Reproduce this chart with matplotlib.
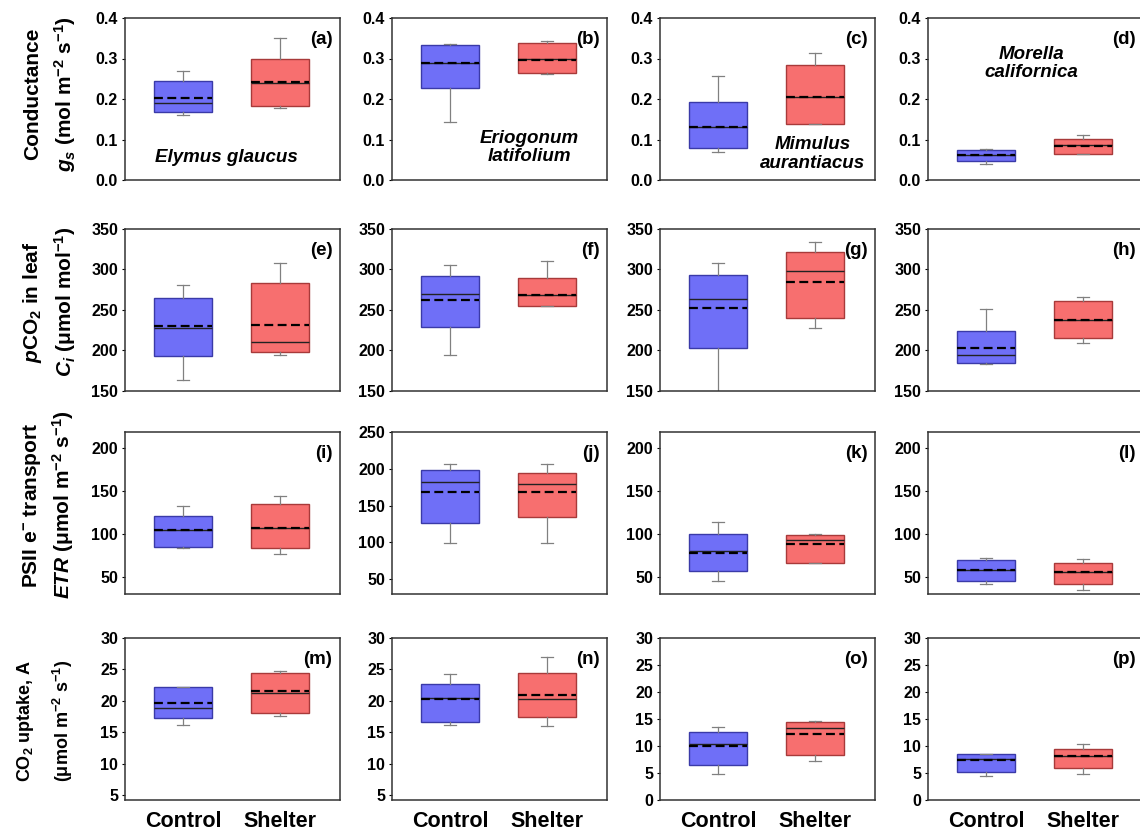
import matplotlib
matplotlib.use("Agg")
import matplotlib.pyplot as plt

plt.rcParams['font.family'] = ['Liberation Sans', 'DejaVu Sans']
plt.rcParams['font.weight'] = 'bold'
plt.rcParams['mathtext.fontset'] = 'custom'
plt.rcParams['mathtext.rm'] = 'Liberation Sans:bold'
plt.rcParams['mathtext.it'] = 'Liberation Sans:bold:italic'
plt.rcParams['mathtext.bf'] = 'Liberation Sans:bold'

# species and treatments
species = ['Elymus glaucus', 'Eriogonum\nlatifolium', 'Mimulus\naurantiacus', 'Morella\ncalifornica']
groups = ['Control', 'Shelter']
letters = ['abcd', 'efgh', 'ijkl', 'mnop']

# each entry: [whislo, q1, median, q3, whishi, mean]
gs_control = [[0.160, 0.168, 0.190, 0.244, 0.270, 0.202],
              [0.143, 0.227, 0.289, 0.333, 0.336, 0.289],
              [0.069, 0.079, 0.131, 0.193, 0.257, 0.131],
              [0.040, 0.047, 0.062, 0.074, 0.076, 0.062]]
gs_shelter = [[0.178, 0.183, 0.240, 0.300, 0.350, 0.242],
              [0.262, 0.265, 0.300, 0.338, 0.342, 0.296],
              [0.138, 0.138, 0.205, 0.284, 0.314, 0.205],
              [0.064, 0.064, 0.086, 0.102, 0.110, 0.084]]

ci_control = [[164, 193, 228, 265, 281, 230],
              [195, 229, 270, 292, 305, 262],
              [148, 203, 263, 293, 308, 252],
              [183, 185, 194, 224, 251, 203]]
ci_shelter = [[194, 198, 211, 283, 308, 231],
              [255, 255, 268, 290, 310, 268],
              [228, 240, 298, 322, 334, 285],
              [209, 215, 238, 261, 266, 238]]

etr_control = [[83, 84, 104, 120, 132, 104],
               [99, 127, 182, 199, 206, 168],
               [45, 57, 80, 100, 113, 78],
               [42, 45, 58, 70, 72, 58]]
etr_shelter = [[77, 83, 107, 134, 144, 107],
               [99, 134, 179, 194, 206, 168],
               [66, 66, 93, 99, 100, 88],
               [35, 42, 55, 66, 71, 55]]

a_control = [[16.1, 17.3, 18.9, 22.2, 22.2, 19.7],
             [16.2, 16.6, 20.5, 22.7, 24.3, 20.3],
             [4.8, 6.5, 10.4, 12.6, 13.5, 10.0],
             [4.4, 5.2, 7.6, 8.5, 8.6, 7.4]]
a_shelter = [[17.6, 18.1, 21.3, 24.4, 24.8, 21.5],
             [16.0, 17.4, 20.3, 24.4, 27.0, 20.9],
             [7.2, 8.3, 13.3, 14.4, 14.6, 12.2],
             [4.8, 5.9, 8.1, 9.4, 10.4, 8.1]]

rows = [(gs_control, gs_shelter), (ci_control, ci_shelter),
        (etr_control, etr_shelter), (a_control, a_shelter)]

ylabels = [('Conductance', '$g_s$ (mol m$^{-2}$ s$^{-1}$)'),
           ('$p$CO$_2$ in leaf', '$C_i$ (μmol mol$^{-1}$)'),
           ('PSII e$^{-}$ transport', '$ETR$ (μmol m$^{-2}$ s$^{-1}$)'),
           ('CO$_2$ uptake, A', '(μmol m$^{-2}$ s$^{-1}$)')]

ylims = [[(0, 0.4)] * 4,
         [(150, 350)] * 4,
         [(30, 218), (30, 250), (30, 218), (30, 218)],
         [(4.2, 30), (4.2, 30), (0, 30), (0, 30)]]
yticks = [[[0, 0.1, 0.2, 0.3, 0.4]] * 4,
          [[150, 200, 250, 300, 350]] * 4,
          [[50, 100, 150, 200], [50, 100, 150, 200, 250], [50, 100, 150, 200], [50, 100, 150, 200]],
          [[5, 10, 15, 20, 25, 30]] * 2 + [[0, 5, 10, 15, 20, 25, 30]] * 2]

W, H = 1140, 835
col_left = [125, 392, 660, 928]
col_w = 215
row_top = [18, 229, 432, 638]
row_h = 162

face = ['#6f6ff7', '#f76f6f']
edge = ['#3a3aa8', '#a83a3a']
species_pos = [(0.47, 0.14), (0.64, 0.2), (0.71, 0.16), (0.48, 0.72)]

fig = plt.figure(figsize=(W / 100, H / 100), dpi=100)

for r in range(4):
    ctrl, shel = rows[r]
    for c in range(4):
        ax = fig.add_axes([col_left[c] / W, 1 - (row_top[r] + row_h) / H,
                           col_w / W, row_h / H])
        for k, d in enumerate([ctrl[c], shel[c]]):
            st = dict(whislo=d[0], q1=d[1], med=d[2], q3=d[3], whishi=d[4],
                      mean=d[5], fliers=[])
            ax.bxp([st], positions=[k + 1], widths=0.6, patch_artist=True,
                   showmeans=True, meanline=True, showfliers=False,
                   boxprops=dict(facecolor=face[k], edgecolor=edge[k], lw=1.0),
                   medianprops=dict(color='#222222', lw=1.0),
                   meanprops=dict(color='black', ls=(0, (4, 2)), lw=1.6),
                   whiskerprops=dict(color='#808080', lw=0.9),
                   capprops=dict(color='#808080', lw=0.9),
                   capwidths=0.12)
        ax.set_xlim(0.4, 2.62)
        ax.set_ylim(*ylims[r][c])
        ax.set_yticks(yticks[r][c])
        if r == 0:
            ax.set_yticklabels(['%.1f' % t for t in yticks[r][c]])
        ax.tick_params(axis='y', direction='out', length=2, labelsize=11.5, pad=3)
        ax.tick_params(axis='x', length=0)
        if r == 3:
            ax.set_xticks([1, 2])
            ax.set_xticklabels(groups, fontsize=15.5, fontweight='bold')
            ax.tick_params(axis='x', pad=8)
        else:
            ax.set_xticks([])
        for sp in ax.spines.values():
            sp.set_color('#333333')
            sp.set_linewidth(1.1)
        ax.text(0.965, 0.87, '(%s)' % letters[r][c], transform=ax.transAxes,
                ha='right', va='center', fontsize=13.5, fontweight='bold')
        if r == 0:
            sx, sy = species_pos[c]
            ax.text(sx, sy, species[c], transform=ax.transAxes, ha='center',
                    va='center', fontsize=13.5, fontweight='bold', style='italic',
                    linespacing=1.1)

# row labels
lab_x = [(33, 65), (33, 65), (32, 63), (25, 63)]
lab_y = [94, 302, 505, 721]
lab_fs = [15, 15, 15, 13]
for r in range(4):
    for i in range(2):
        fig.text(lab_x[r][i] / W, 1 - lab_y[r] / H, ylabels[r][i], rotation=90,
                 ha='center', va='center', fontsize=lab_fs[r], fontweight='bold')

fig.savefig('out.png', dpi=100)
